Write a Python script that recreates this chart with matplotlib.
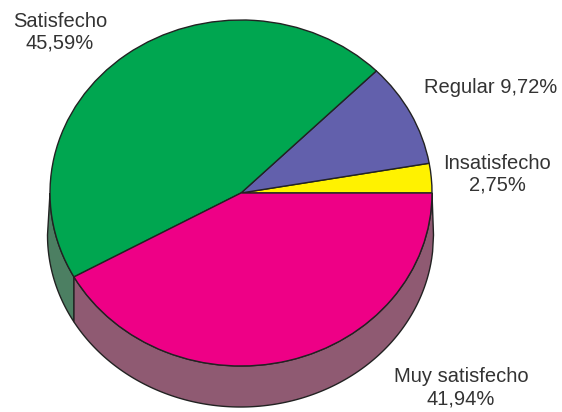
import numpy as np
import matplotlib
matplotlib.use("Agg")
import matplotlib.pyplot as plt

labels = ["Insatisfecho\n2,75%", "Regular 9,72%", "Satisfecho\n45,59%", "Muy satisfecho\n41,94%"]
values = [2.75, 9.72, 45.59, 41.94]
colors = ["#FFF200", "#6260AC", "#00A650", "#EE0086"]
wall_colors = ["#8F8A3A", "#4A4A80", "#4C7F62", "#8F5A72"]

W, H = 562, 412
plt.rcParams["font.family"] = ["Liberation Sans", "DejaVu Sans"]
fig = plt.figure(figsize=(W / 100, H / 100), dpi=100, facecolor="white")
ax = fig.add_axes([0, 0, 1, 1])

CX, CY, RX, RY = 241, 193, 191, 173
BCX, BCY, BRX, BRY = 240.5, 235, 193, 172
EDGE = "#222222"


def bottom_y(x):
    u = np.clip((x - BCX) / BRX, -1, 1)
    return BCY + BRY * np.sqrt(1 - u ** 2)


# side wall below the top face, split at the slice boundaries
cum = np.cumsum([0] + values) * 3.6
for a0, a1, wc in zip(cum[:-1], cum[1:], wall_colors):
    lo, hi = max(a0, 180), min(a1, 360)
    if hi <= lo:
        continue
    t = np.radians(np.linspace(lo, hi, 200))
    x = CX + RX * np.cos(t)
    y = CY - RY * np.sin(t)
    xb = x.copy()
    xb[0] = BCX - BRX if lo == 180 else x[0]
    xb[-1] = BCX + BRX if hi == 360 else x[-1]
    xb = np.linspace(xb[0], xb[-1], 400)
    ax.fill(np.r_[x, xb[::-1]], np.r_[y, bottom_y(xb)[::-1]],
            facecolor=wc, edgecolor=EDGE, linewidth=1.0, zorder=1)

# top face
wedges, _ = ax.pie(values, colors=colors, startangle=0, counterclock=True,
                   wedgeprops=dict(edgecolor=EDGE, linewidth=1.0, zorder=2))
ax.set_aspect("auto")
for w in wedges:
    w.set_transform(matplotlib.transforms.Affine2D().scale(RX, -RY).translate(CX, CY) + ax.transData)
ax.set_xlim(0, W)
ax.set_ylim(H, 0)
ax.axis("off")

positions = [(497, 174), (491, 87), (60, 32), (461, 388)]
for lab, (px, py) in zip(labels, positions):
    ax.text(px, py, lab, ha="center", va="center", fontsize=14.5,
            color="#333333", linespacing=1.2, zorder=3)

fig.savefig("out.png", dpi=100, facecolor="white")
